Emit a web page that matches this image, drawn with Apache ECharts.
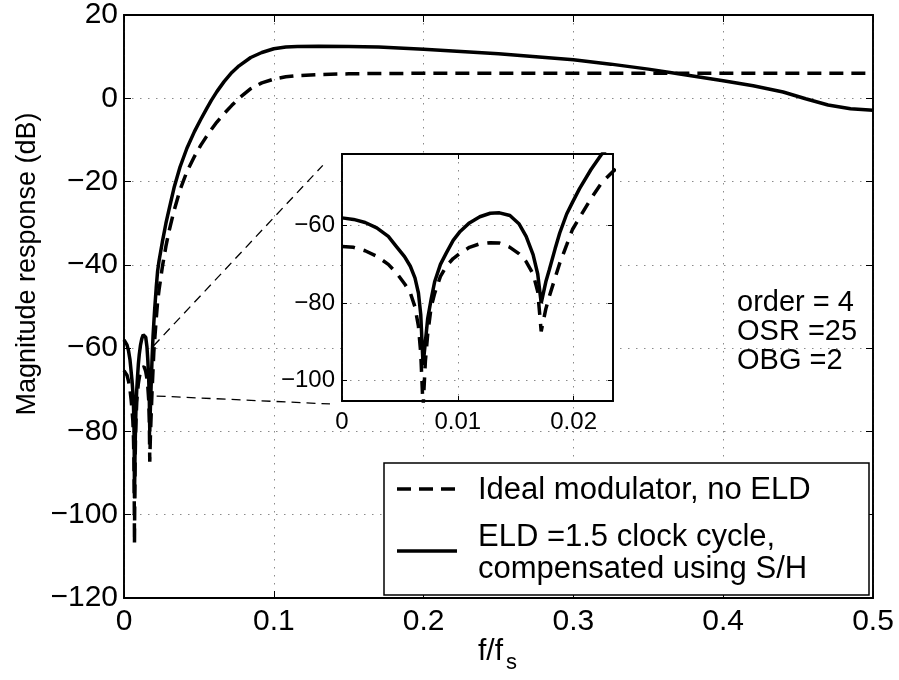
<!DOCTYPE html>
<html><head><meta charset="utf-8">
<script src="https://cdn.jsdelivr.net/npm/echarts@6/dist/echarts.min.js"></script>
<style>html,body{margin:0;padding:0;background:#fff}#c{width:899px;height:680px}</style>
</head><body><div id="c"></div>
<script>
// ---- data ----
const freq = [0, 0.001, 0.002, 0.003, 0.004, 0.0047, 0.0054, 0.0059, 0.0063, 0.0066, 0.0068, 0.0070, 0.0072, 0.0074, 0.0077, 0.0080, 0.0085, 0.0090, 0.0096, 0.0102, 0.0110, 0.0119, 0.0128, 0.0136, 0.0145, 0.0153, 0.0159, 0.0165, 0.0169, 0.0172, 0.0176, 0.0179, 0.0184, 0.0188, 0.0194, 0.0199, 0.0205, 0.0215, 0.0224, 0.0234, 0.0256, 0.0280, 0.0300, 0.0334, 0.0374, 0.0420, 0.0470, 0.0512, 0.0550, 0.0583, 0.0620, 0.0668, 0.0720, 0.0768, 0.0846, 0.0920, 0.1000, 0.1080, 0.1157, 0.1300, 0.1500, 0.1700, 0.2000, 0.2500, 0.3000, 0.3250, 0.3500, 0.3700, 0.4000, 0.4200, 0.4400, 0.4550, 0.4700, 0.4850, 0.5000];
const idealDb = [-65.4, -65.6, -66.5, -67.9, -70.0, -72.2, -75.0, -77.4, -81.0, -86.0, -93.0, -107.0, -95.0, -88.0, -81.0, -77.5, -73.1, -70.5, -68.5, -67.1, -65.6, -64.7, -64.4, -64.5, -65.6, -67.3, -69.3, -72.5, -77.0, -87.3, -81.5, -78.3, -73.5, -69.7, -65.0, -61.0, -58.0, -53.0, -49.0, -46.0, -40.5, -35.5, -32.0, -27.0, -22.0, -17.6, -14.0, -11.3, -9.2, -7.5, -5.7, -3.7, -1.7, 0.0, 2.3, 3.7, 4.6, 5.15, 5.45, 5.7, 5.88, 5.96, 6.0, 6.0, 6.0, 6.0, 6.0, 6.0, 6.0, 6.0, 6.0, 6.0, 6.0, 6.0, 6.0];
const eldDb = [-58.0, -58.4, -59.2, -60.6, -62.8, -65.4, -68.0, -70.5, -73.5, -77.4, -83.0, -96.0, -90.0, -84.0, -79.0, -74.5, -70.0, -67.1, -63.8, -61.5, -59.3, -57.7, -56.8, -56.7, -57.4, -59.6, -62.8, -67.5, -72.5, -80.0, -74.5, -71.4, -66.0, -61.9, -57.0, -54.0, -50.5, -45.5, -41.6, -39.0, -34.5, -30.0, -26.8, -21.5, -16.5, -12.0, -8.0, -5.1, -2.6, -0.5, 1.6, 4.0, 6.2, 7.8, 9.8, 11.0, 11.9, 12.3, 12.45, 12.5, 12.45, 12.3, 11.8, 10.7, 9.25, 8.2, 7.0, 5.9, 4.2, 3.0, 1.5, -0.1, -1.6, -2.5, -2.9];
const seriesNames = ['Ideal modulator, no ELD', 'ELD =1.5 clock cycle,', 'compensated using S/H'];
const mainXRange = [0, 0.5];
const mainYRange = [-120, 20];
const insetXTicks = [0, 0.01, 0.02];
const insetYTicks = [-100, -80, -60];
const insetXRange = [0, 0.0234];
const insetYRange = [-105.3, -41.5];
const zoomLineA = [[0.0196, -59.5], [0.1327, -16.1]];
const zoomLineB = [[0.0218, -71.5], [0.1375, -73.4]];
const annotationLines = ['order = 4', 'OSR =25', 'OBG =2'];
const xLabelMain = 'f/f';
const xLabelSub = 's';
const yLabelMain = 'Magnitude response (dB)';

// ---- chart ----
const FONT = 'Liberation Sans, Arial, Helvetica, sans-serif';
const pairs = (ys) => freq.map((f, i) => [f, ys[i]]);
const minusFmt = (v) => String(+(+v).toFixed(3)).replace('-', '\u2212');
const dotted = { color: '#8a8a8a', width: 1, type: [1.5, 6.5] };
const chart = echarts.init(document.getElementById('c'), null, { renderer: 'canvas' });

const tickStyle = { show: true, inside: true, length: 7, lineStyle: { color: '#000', width: 1 } };
const lineAxis = { show: true, onZero: false, lineStyle: { color: '#000', width: 1.8 } };

chart.setOption({
  backgroundColor: '#fff',
  animation: false,
  grid: [
    { left: 124, top: 13, width: 749, height: 585, show: true, borderColor: '#000', borderWidth: 1.5, backgroundColor: 'transparent', z: 0 },
    { left: 342, top: 154, width: 271, height: 247, show: true, borderColor: '#000', borderWidth: 1.5, backgroundColor: '#fff', z: 10 }
  ],
  xAxis: [
    { type: 'value', gridIndex: 0, position: 'bottom', min: mainXRange[0], max: mainXRange[1], interval: 0.1,
      axisLine: lineAxis, axisTick: tickStyle, splitLine: { show: true, lineStyle: dotted },
      axisLabel: { color: '#000', fontSize: 30, fontFamily: FONT, margin: 9, formatter: minusFmt } },
    { type: 'value', gridIndex: 0, position: 'top', min: mainXRange[0], max: mainXRange[1], interval: 0.1,
      axisLine: lineAxis, axisTick: tickStyle, splitLine: { show: false }, axisLabel: { show: false } },
    { type: 'value', gridIndex: 1, position: 'bottom', min: insetXRange[0], max: insetXRange[1], z: 11,
      axisLine: lineAxis, axisTick: Object.assign({}, tickStyle, { length: 5, customValues: insetXTicks }),
      splitLine: { show: true, lineStyle: dotted },
      axisLabel: { color: '#000', fontSize: 24, fontFamily: FONT, margin: 9, customValues: insetXTicks, formatter: minusFmt } },
    { type: 'value', gridIndex: 1, position: 'top', min: insetXRange[0], max: insetXRange[1], z: 11,
      axisLine: lineAxis, axisTick: Object.assign({}, tickStyle, { length: 5, customValues: insetXTicks }),
      splitLine: { show: false }, axisLabel: { show: false } }
  ],
  yAxis: [
    { type: 'value', gridIndex: 0, position: 'left', min: mainYRange[0], max: mainYRange[1], interval: 20,
      axisLine: lineAxis, axisTick: tickStyle, splitLine: { show: true, lineStyle: dotted },
      axisLabel: { color: '#000', fontSize: 30, fontFamily: FONT, margin: 6, formatter: minusFmt } },
    { type: 'value', gridIndex: 0, position: 'right', min: mainYRange[0], max: mainYRange[1], interval: 20,
      axisLine: lineAxis, axisTick: tickStyle, splitLine: { show: false }, axisLabel: { show: false } },
    { type: 'value', gridIndex: 1, position: 'left', min: insetYRange[0], max: insetYRange[1], z: 11,
      axisLine: lineAxis, axisTick: Object.assign({}, tickStyle, { length: 5, customValues: insetYTicks }),
      splitLine: { show: true, lineStyle: dotted },
      axisLabel: { color: '#000', fontSize: 24, fontFamily: FONT, margin: 7, customValues: insetYTicks, formatter: minusFmt } },
    { type: 'value', gridIndex: 1, position: 'right', min: insetYRange[0], max: insetYRange[1], z: 11,
      axisLine: lineAxis, axisTick: Object.assign({}, tickStyle, { length: 5, customValues: insetYTicks }),
      splitLine: { show: false }, axisLabel: { show: false } }
  ],
  series: [
    { name: seriesNames[0], type: 'line', xAxisIndex: 0, yAxisIndex: 0, data: pairs(idealDb), showSymbol: false, z: 3,
      lineStyle: { color: '#000', width: 3.5, type: [14, 8] } },
    { name: seriesNames[1], type: 'line', xAxisIndex: 0, yAxisIndex: 0, data: pairs(eldDb), showSymbol: false, z: 3,
      lineStyle: { color: '#000', width: 3.5, type: 'solid' } },
    { type: 'line', xAxisIndex: 0, yAxisIndex: 0, data: zoomLineA, showSymbol: false, z: 2, clip: false,
      lineStyle: { color: '#000', width: 1.3, type: [9, 6] } },
    { type: 'line', xAxisIndex: 0, yAxisIndex: 0, data: zoomLineB, showSymbol: false, z: 2, clip: false,
      lineStyle: { color: '#000', width: 1.3, type: [9, 6] } },
    { name: seriesNames[0], type: 'line', xAxisIndex: 2, yAxisIndex: 2, data: pairs(idealDb), showSymbol: false, z: 12,
      lineStyle: { color: '#000', width: 3.5, type: [13, 9] } },
    { name: seriesNames[1], type: 'line', xAxisIndex: 2, yAxisIndex: 2, data: pairs(eldDb), showSymbol: false, z: 12,
      lineStyle: { color: '#000', width: 3.5, type: 'solid' } }
  ],
  graphic: [
    { type: 'text', x: 28, y: 264, rotation: Math.PI / 2, z: 20,
      style: { text: yLabelMain, fill: '#000', font: '27px ' + FONT, textAlign: 'center', textVerticalAlign: 'middle' } },
    { type: 'text', x: 478, y: 652, z: 20,
      style: { text: xLabelMain, fill: '#000', font: '30px ' + FONT, textAlign: 'left', textVerticalAlign: 'middle' } },
    { type: 'text', x: 506, y: 663, z: 20,
      style: { text: xLabelSub, fill: '#000', font: '22px ' + FONT, textAlign: 'left', textVerticalAlign: 'middle' } },
    { type: 'text', x: 737, y: 303, z: 20,
      style: { text: annotationLines[0], fill: '#000', font: '29px ' + FONT, textAlign: 'left', textVerticalAlign: 'middle' } },
    { type: 'text', x: 737, y: 332, z: 20,
      style: { text: annotationLines[1], fill: '#000', font: '29px ' + FONT, textAlign: 'left', textVerticalAlign: 'middle' } },
    { type: 'text', x: 737, y: 361, z: 20,
      style: { text: annotationLines[2], fill: '#000', font: '29px ' + FONT, textAlign: 'left', textVerticalAlign: 'middle' } },
    { type: 'group', z: 30, children: [
      { type: 'rect', shape: { x: 384, y: 463, width: 485, height: 132 }, z: 30,
        style: { fill: '#fff', stroke: '#000', lineWidth: 1.5 } },
      { type: 'line', shape: { x1: 397, y1: 489, x2: 457, y2: 489 }, z: 31,
        style: { stroke: '#000', lineWidth: 3.5, lineDash: [14, 8] } },
      { type: 'line', shape: { x1: 397, y1: 551, x2: 457, y2: 551 }, z: 31,
        style: { stroke: '#000', lineWidth: 3.5 } },
      { type: 'text', x: 478, y: 490, z: 31,
        style: { text: seriesNames[0], fill: '#000', font: '31px ' + FONT, textAlign: 'left', textVerticalAlign: 'middle' } },
      { type: 'text', x: 478, y: 537, z: 31,
        style: { text: seriesNames[1], fill: '#000', font: '31px ' + FONT, textAlign: 'left', textVerticalAlign: 'middle' } },
      { type: 'text', x: 478, y: 569, z: 31,
        style: { text: seriesNames[2], fill: '#000', font: '31px ' + FONT, textAlign: 'left', textVerticalAlign: 'middle' } }
    ] }
  ]
});
</script></body></html>
